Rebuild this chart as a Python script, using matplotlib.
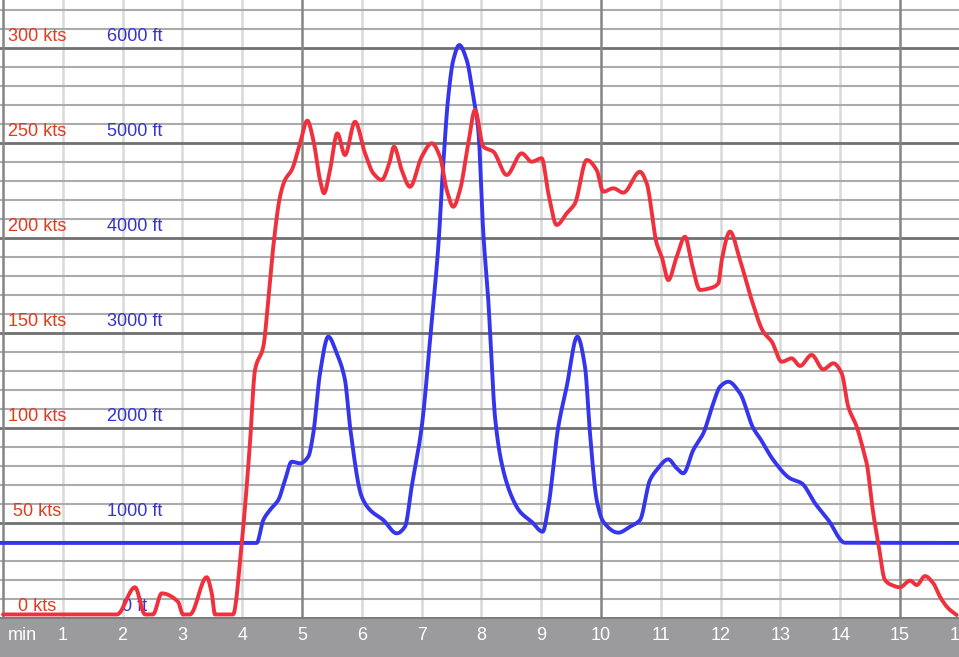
import matplotlib
matplotlib.use("Agg")
import matplotlib.pyplot as plt
from matplotlib.patches import Rectangle
import numpy as np

# ---- data ----
speed_t = [0.0, 1.906, 2.207, 2.375, 2.508, 2.654, 2.926, 3.010, 3.127, 3.406, 3.49, 3.545,
           3.846, 3.992, 4.130, 4.214, 4.353, 4.436, 4.520, 4.632, 4.716, 4.828, 4.967,
           5.089, 5.189, 5.301, 5.368, 5.468, 5.590, 5.719, 5.886, 6.054, 6.192, 6.333,
           6.460, 6.538, 6.667, 6.806, 7.002, 7.169, 7.308, 7.420, 7.530, 7.642, 7.781,
           7.893, 8.032, 8.199, 8.423, 8.674, 8.841, 9.008, 9.119, 9.259, 9.426, 9.565,
           9.761, 9.928, 10.038, 10.206, 10.373, 10.652, 10.764, 10.931, 11.015, 11.125,
           11.266, 11.405, 11.517, 11.656, 11.823, 11.962, 12.019, 12.157, 12.324, 12.520,
           12.714, 12.855, 13.022, 13.189, 13.328, 13.523, 13.717, 13.885, 14.025, 14.135,
           14.276, 14.386, 14.443, 14.553, 14.637, 14.749, 14.861, 15.0, 15.167, 15.279,
           15.418, 15.557, 15.669, 15.808, 15.948]
speed_kts = [1.6, 1.6, 15.9, 1.6, 1.6, 12.7, 8.3, 1.6, 1.6, 21.2, 12.9, 1.6,
             1.6, 39.1, 91.7, 130.3, 142.5, 167.1, 195.2, 221.5, 230.3, 235.5, 249.6,
             261.5, 251.3, 230.3, 223.3, 235.5, 254.8, 243.4, 260.9, 244.3, 233.8, 230.3,
             239.1, 247.8, 235.5, 226.7, 242.5, 249.6, 242.5, 225.0, 216.2, 225.0, 249.6,
             267.1, 247.8, 245.2, 232.9, 244.3, 239.9, 241.7, 223.3, 206.6, 212.7, 218.0,
             240.8, 235.5, 224.1, 225.9, 223.6, 234.6, 228.5, 196.9, 189.9, 177.6,
             189.9, 200.4, 186.4, 172.4, 173.3, 175.9, 188.2, 203.1, 188.2, 167.1,
             150.4, 145.2, 134.6, 136.4, 132.4, 138.2, 130.6, 133.8, 128.5, 110.9,
             100.4, 88.2, 81.2, 54.8, 39.1, 19.7, 17.1, 15.9, 19.4, 17.1,
             21.8, 18.0, 10.9, 4.8, 1.3]

alt_t = [-0.05, 4.242, 4.353, 4.465, 4.604, 4.716, 4.828, 4.967, 5.105, 5.189, 5.301, 5.440,
         5.580, 5.719, 5.803, 5.998, 6.137, 6.359, 6.584, 6.722, 6.834, 7.002, 7.161,
         7.279, 7.363, 7.446, 7.530, 7.630, 7.754, 7.865, 7.948, 8.032, 8.115, 8.199,
         8.227, 8.339, 8.507, 8.645, 8.841, 9.025, 9.119, 9.286, 9.426, 9.604, 9.732,
         9.816, 9.928, 10.038, 10.289, 10.485, 10.652, 10.819, 10.931, 11.125, 11.266,
         11.376, 11.543, 11.711, 11.878, 11.990, 12.129, 12.324, 12.547, 12.659, 12.881,
         13.161, 13.356, 13.579, 13.801, 14.080, 16.0]
alt_ft = [785, 785, 1026, 1132, 1237, 1447, 1640, 1623, 1693, 1939, 2570, 2956,
          2781, 2500, 2008, 1272, 1132, 1026, 886, 956, 1377, 2008, 3061,
          3903, 4781, 5482, 5868, 6026, 5868, 5482, 5132, 4044, 3342, 2360,
          2114, 1623, 1272, 1114, 1008, 903, 1166, 2008, 2429, 2956, 2640,
          1939, 1237, 1008, 893, 956, 1026, 1447, 1553, 1665, 1571,
          1518, 1763, 1939, 2255, 2429, 2482, 2360, 1992, 1886, 1658,
          1465, 1413, 1202, 1026, 787, 785]

kts_labels = [0, 50, 100, 150, 200, 250, 300]
ft_labels = [0, 1000, 2000, 3000, 4000, 5000, 6000]
minute_labels = list(range(1, 17))


def pchip_render(xs, ys, n=16):
    """Monotone cubic (Fritsch-Carlson) rendering of a polyline - drawing only."""
    x = np.asarray(xs, float)
    y = np.asarray(ys, float)
    h = np.diff(x)
    d = np.diff(y) / h
    m = np.zeros_like(y)
    m[0], m[-1] = d[0], d[-1]
    for i in range(1, len(y) - 1):
        if d[i - 1] * d[i] <= 0:
            m[i] = 0.0
        else:
            w1 = 2 * h[i] + h[i - 1]
            w2 = h[i] + 2 * h[i - 1]
            m[i] = (w1 + w2) / (w1 / d[i - 1] + w2 / d[i])
    X, Y = [], []
    for i in range(len(h)):
        s = np.linspace(0, 1, n, endpoint=False)
        h00 = 2 * s**3 - 3 * s**2 + 1
        h10 = s**3 - 2 * s**2 + s
        h01 = -2 * s**3 + 3 * s**2
        h11 = s**3 - s**2
        X.append(x[i] + s * h[i])
        Y.append(h00 * y[i] + h10 * h[i] * m[i] + h01 * y[i + 1] + h11 * h[i] * m[i + 1])
    X.append([x[-1]])
    Y.append([y[-1]])
    return np.concatenate(X), np.concatenate(Y)


# ---- figure ----
W, H = 959, 657
fig = plt.figure(figsize=(W / 100, H / 100), dpi=100)
plot_bottom_px = 39.5
ax = fig.add_axes([0, plot_bottom_px / H, 1, 1 - plot_bottom_px / H])
ax.set_xlim(-3 / 59.8, 956 / 59.8)
ax.set_ylim(0, 617.5 / 1.9)
ax.axis("off")

# grid
for k in range(0, 330, 10):
    if k % 50 == 0:
        ax.axhline(k, color="#707070", lw=2.0, zorder=1)
    else:
        ax.axhline(k, color="#ababab", lw=1.5, zorder=0.8)
for m in range(0, 17):
    if m % 5 == 0:
        ax.axvline(m, color="#858585", lw=1.8, zorder=1.1)
    else:
        ax.axvline(m, color="#d9d9d9", lw=1.8, zorder=0.5)

font = ["Liberation Sans", "DejaVu Sans"]
for k, f in zip(kts_labels, ft_labels):
    ax.text(0.57, k + 6.0, f"{k} kts", color="#e23a1c", fontsize=13, family=font,
            ha="center", va="center", zorder=2)
    ax.text(2.2, k + 6.0, f"{f} ft", color="#3434cc", fontsize=13, family=font,
            ha="center", va="center", zorder=2)

# series (altitude plotted on kts scale: 6000 ft = 300 kts)
bx, by = pchip_render(alt_t, [a / 20 for a in alt_ft])
ax.plot(bx, by, color="#3535ee", lw=2.8,
        solid_joinstyle="round", solid_capstyle="round", zorder=3)
rx, ry = pchip_render(speed_t, speed_kts)
ax.plot(rx, ry, color="#f0303c", lw=2.8,
        solid_joinstyle="round", solid_capstyle="round", zorder=4)

# bottom bar
fig.patches.append(Rectangle((0, 0), 1, plot_bottom_px / H, transform=fig.transFigure,
                             facecolor="#9b9a9c", edgecolor="none", zorder=5))
fig.add_artist(plt.Line2D([0, 1], [plot_bottom_px / H] * 2, transform=fig.transFigure,
                          color="#7a797b", lw=1.2, zorder=5.5))
ypos = (H - 635.5) / H
fig.text(22 / W, ypos, "min", color="white", fontsize=13, family=font,
         ha="center", va="center", zorder=6)
for m in minute_labels:
    xp = (3 + 59.8 * m) / W
    fig.text(xp, ypos, str(m), color="white", fontsize=13, family=font,
             ha="center", va="center", zorder=6)

fig.savefig("out.png", dpi=100)
